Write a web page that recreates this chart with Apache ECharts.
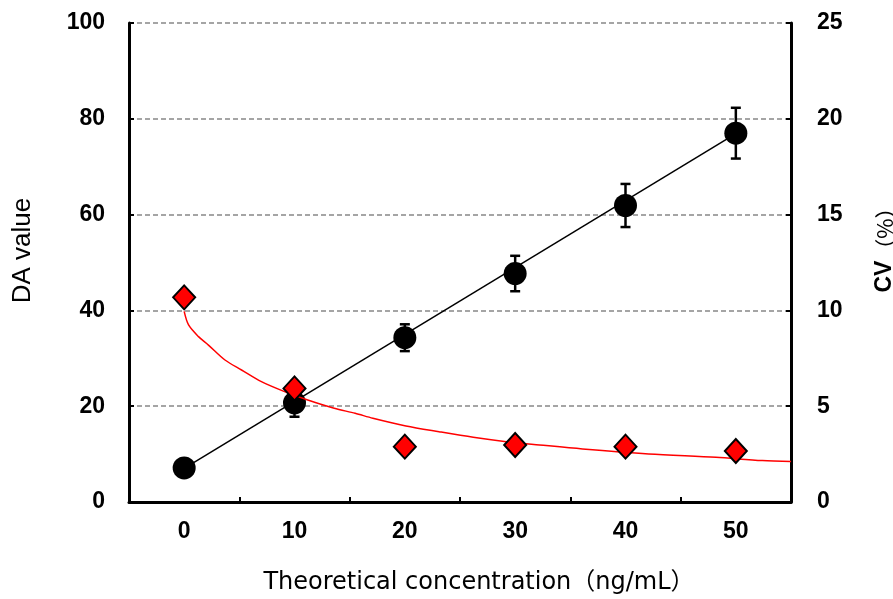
<!DOCTYPE html>
<html>
<head>
<meta charset="utf-8">
<script src="https://cdn.jsdelivr.net/npm/echarts@6/dist/echarts.min.js"></script>
<style>
html,body{margin:0;padding:0;background:#fff;}
#c{width:893px;height:599px;}
</style>
</head>
<body>
<div id="c"></div>
<script>
// Concentrations (ng/mL)
const conc = [0, 10, 20, 30, 40, 50];
// DA value (mean) and error (SD)
const daMean = [7.1, 20.7, 34.3, 47.7, 61.9, 77.0];
const daErr = [1.5, 2.9, 2.8, 3.7, 4.5, 5.3];
// Regression line endpoints
const fitX = [0, 50];
const fitY = [7.0, 76.9];
// CV (%) per concentration
const cvValues = [10.68, 5.93, 2.89, 2.97, 2.89, 2.66];
// CV trend curve
const cvCurveX = [0, 0.4, 1.3, 2.2, 3.7, 5.2, 7.0, 9.1, 11.2, 13.6, 15.5, 17.1, 20.1, 23.1, 26.2, 29.2, 32.2, 36.1, 42.1, 48.2, 52.4, 55];
const cvCurveY = [9.95, 9.24, 8.63, 8.19, 7.41, 6.89, 6.28, 5.76, 5.32, 4.89, 4.63, 4.37, 3.97, 3.67, 3.38, 3.15, 2.98, 2.77, 2.51, 2.33, 2.16, 2.12];
// Axis ticks
const xLabelValues = [0, 10, 20, 30, 40, 50];
const xTickValues = [5, 15, 25, 35, 45];

const chart = echarts.init(document.getElementById('c'), null, {renderer: 'canvas'});

const tickFont = {color: '#000', fontWeight: 'bold', fontSize: 23, fontFamily: 'Liberation Sans, Arial, sans-serif'};

const option = {
  animation: false,
  backgroundColor: '#fff',
  grid: {left: 129, right: 102, top: 23, bottom: 97, containLabel: false, outerBoundsMode: 'none'},
  xAxis: {
    type: 'value', min: -5, max: 55,
    name: 'Theoretical concentration（ng/mL）',
    nameLocation: 'middle', nameGap: 69,
    nameTextStyle: {color: '#000', fontSize: 24, fontFamily: 'DejaVu Sans, Noto Sans CJK JP, sans-serif', padding: [0, 0, 0, 38]},
    axisLine: {show: true, onZero: false, lineStyle: {color: '#000', width: 3}},
    axisTick: {show: true, inside: true, length: 5, customValues: xTickValues, lineStyle: {color: '#000', width: 2}},
    axisLabel: Object.assign({margin: 18, customValues: xLabelValues}, tickFont),
    splitLine: {show: false}
  },
  yAxis: [
    {
      type: 'value', min: 0, max: 100, interval: 20, position: 'left',
      name: 'DA value', nameLocation: 'middle', nameGap: 93, nameRotate: 90,
      nameTextStyle: {color: '#000', fontSize: 26, fontFamily: 'Liberation Sans, Arial, sans-serif', padding: [0, 0, 0, 24]},
      axisLine: {show: true, onZero: false, lineStyle: {color: '#000', width: 3}},
      axisTick: {show: true, inside: true, length: 5, lineStyle: {color: '#000', width: 2}},
      axisLabel: Object.assign({margin: 24}, tickFont),
      splitLine: {show: true, lineStyle: {color: '#888', type: [5, 3], width: 1.5}}
    },
    {
      type: 'value', min: 0, max: 25, interval: 5, position: 'right',
      name: '{b|CV}（%）', nameLocation: 'middle', nameGap: 82, nameRotate: 90,
      nameTextStyle: {color: '#000', fontSize: 22, fontFamily: 'Noto Sans CJK JP, sans-serif', padding: [0, 0, 0, 36],
        rich: {b: {fontSize: 23, fontWeight: 'bold', fontFamily: 'Liberation Sans, Arial, sans-serif', color: '#000'}}},
      axisLine: {show: true, onZero: false, lineStyle: {color: '#000', width: 3}},
      axisTick: {show: true, inside: true, length: 5, lineStyle: {color: '#000', width: 2}},
      axisLabel: Object.assign({margin: 26}, tickFont),
      splitLine: {show: false}
    }
  ],
  series: [
    {
      type: 'line', yAxisIndex: 0, symbol: 'none', silent: true,
      lineStyle: {color: '#000', width: 1.5},
      data: fitX.map((x, i) => [x, fitY[i]]), z: 2
    },
    {
      type: 'custom', yAxisIndex: 0, silent: true, z: 3,
      data: conc.map((x, i) => [x, daMean[i] - daErr[i], daMean[i] + daErr[i]]),
      renderItem: function (params, api) {
        const lo = api.coord([api.value(0), api.value(1)]);
        const hi = api.coord([api.value(0), api.value(2)]);
        const hw = 5;
        const st = {stroke: '#000', lineWidth: 2.5};
        return {type: 'group', children: [
          {type: 'line', shape: {x1: lo[0], y1: lo[1], x2: hi[0], y2: hi[1]}, style: st},
          {type: 'line', shape: {x1: lo[0] - hw, y1: lo[1], x2: lo[0] + hw, y2: lo[1]}, style: st},
          {type: 'line', shape: {x1: hi[0] - hw, y1: hi[1], x2: hi[0] + hw, y2: hi[1]}, style: st}
        ]};
      }
    },
    {
      type: 'scatter', yAxisIndex: 0, symbol: 'circle', symbolSize: 23, silent: true, z: 4,
      itemStyle: {color: '#000', opacity: 1},
      data: conc.map((x, i) => [x, daMean[i]])
    },
    {
      type: 'line', yAxisIndex: 1, symbol: 'none', silent: true, smooth: 0.3, z: 5,
      lineStyle: {color: '#ff0000', width: 1.5},
      data: cvCurveX.map((x, i) => [x, cvCurveY[i]])
    },
    {
      type: 'scatter', yAxisIndex: 1, symbol: 'diamond', symbolSize: [22, 24], silent: true, z: 6,
      itemStyle: {color: '#ff0000', borderColor: '#000', borderWidth: 2, opacity: 1},
      data: conc.map((x, i) => [x, cvValues[i]])
    }
  ]
};
chart.setOption(option);
</script>
</body>
</html>
